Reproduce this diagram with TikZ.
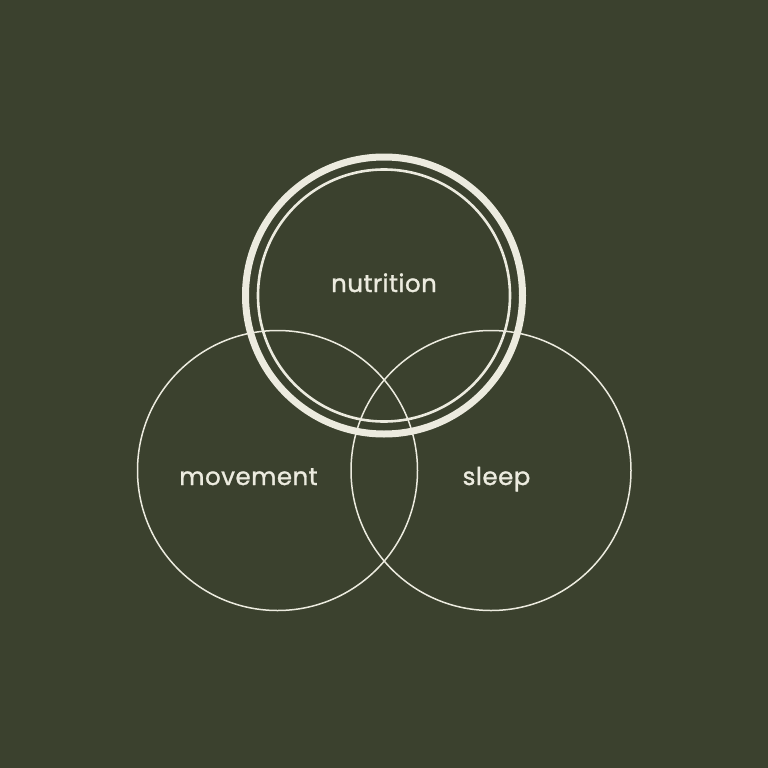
\documentclass[tikz,border=0pt]{standalone}
\usepackage{fontspec}
\setmainfont{Poppins}
\newfontfamily\lblfont{Poppins}[FakeBold=1.2,LetterSpace=2]
\definecolor{bgolive}{HTML}{3B412E}
\definecolor{cream}{HTML}{ECEBDF}
\begin{document}
\begin{tikzpicture}[x=1pt,y=-1pt,
  ring/.style={draw=cream,line width=1.5pt},
  thickring/.style={draw=cream,line width=7pt},
  midring/.style={draw=cream,line width=2.6pt},
  lbl/.style={text=cream,font=\lblfont\fontsize{24.5}{24.5}\selectfont,anchor=base,inner sep=0pt}]
\fill[bgolive] (0,0) rectangle (768,768);
\useasboundingbox (0,0) rectangle (768,768);
\node[ring,circle,minimum size=280pt,inner sep=0pt] (move) at (277.5,470.5) {};
\node[ring,circle,minimum size=280pt,inner sep=0pt] (sleepc) at (491,470.5) {};
\node[thickring,circle,minimum size=277pt,inner sep=0pt] (nutout) at (384,295.5) {};
\node[midring,circle,minimum size=252pt,inner sep=0pt] (nutin) at (384,295.5) {};
\node[lbl] (tn) at (384,292) {nutrition};
\node[lbl] (tm) at (248.5,485) {movement};
\node[lbl] (ts) at (496.5,485) {sleep};
\end{tikzpicture}
\end{document}
